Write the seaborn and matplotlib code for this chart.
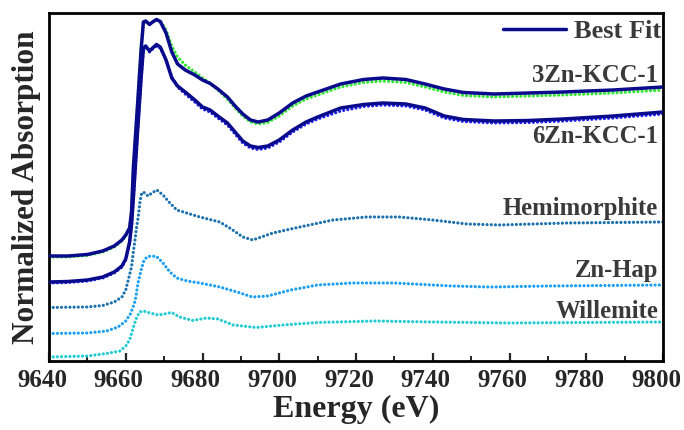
import numpy as np
import pandas as pd
import matplotlib
matplotlib.use("Agg")
import matplotlib.pyplot as plt
import matplotlib.transforms as mtransforms
from matplotlib.ticker import MultipleLocator
import seaborn as sns

# ---------------- data (normalized absorption, stacked with offsets) ----------------
energy_kcc = [9640, 9645, 9650, 9654, 9657, 9659, 9660, 9661, 9661.5, 9662,
              9663, 9664, 9664.6, 9665.2, 9666.2, 9667, 9668, 9669, 9670.5, 9672,
              9673.5, 9675.5, 9678, 9680, 9682, 9684, 9686.5, 9688.5, 9690.5, 9692.5,
              9694.5, 9697, 9700, 9703.5, 9707, 9710, 9716, 9722, 9727, 9733,
              9738, 9743, 9748, 9756, 9765, 9774, 9787, 9800]

zn3_data = [1.04, 1.04, 1.055, 1.09, 1.14, 1.20, 1.25, 1.33, 1.50, 1.95,
            2.53, 3.15, 3.39, 3.39, 3.37, 3.39, 3.41, 3.40, 3.31, 3.15,
            3.04, 2.96, 2.89, 2.83, 2.78, 2.71, 2.62, 2.53, 2.45, 2.39,
            2.37, 2.385, 2.45, 2.55, 2.62, 2.66, 2.74, 2.785, 2.80, 2.785,
            2.74, 2.69, 2.655, 2.64, 2.65, 2.66, 2.68, 2.71]
zn3_fit = [1.05, 1.05, 1.065, 1.10, 1.15, 1.21, 1.26, 1.33, 1.49, 1.94,
           2.52, 3.11, 3.39, 3.40, 3.365, 3.39, 3.415, 3.395, 3.28, 3.09,
           2.97, 2.91, 2.86, 2.81, 2.775, 2.72, 2.64, 2.55, 2.47, 2.41,
           2.39, 2.41, 2.48, 2.58, 2.65, 2.69, 2.77, 2.815, 2.83, 2.815,
           2.77, 2.72, 2.685, 2.67, 2.68, 2.69, 2.71, 2.74]

zn6_data = [0.78, 0.785, 0.80, 0.83, 0.88, 0.94, 1.01, 1.18, 1.35, 1.63,
            2.24, 2.82, 3.12, 3.14, 3.09, 3.12, 3.15, 3.13, 3.01, 2.84,
            2.74, 2.67, 2.59, 2.52, 2.49, 2.43, 2.36, 2.27, 2.18, 2.13,
            2.115, 2.13, 2.19, 2.29, 2.37, 2.42, 2.50, 2.545, 2.56, 2.55,
            2.51, 2.43, 2.395, 2.38, 2.385, 2.40, 2.43, 2.47]
zn6_fit = [0.79, 0.795, 0.81, 0.84, 0.89, 0.95, 1.02, 1.19, 1.36, 1.64,
           2.25, 2.83, 3.13, 3.15, 3.10, 3.13, 3.165, 3.14, 3.01, 2.83,
           2.75, 2.69, 2.61, 2.54, 2.51, 2.45, 2.38, 2.29, 2.20, 2.15,
           2.135, 2.15, 2.21, 2.31, 2.39, 2.44, 2.53, 2.565, 2.58, 2.57,
           2.53, 2.45, 2.415, 2.40, 2.405, 2.42, 2.45, 2.49]

energy_hemi = [9640, 9650, 9654, 9657, 9659, 9660, 9660.65, 9661.5, 9661.95, 9662.4,
               9662.8, 9663.25, 9663.7, 9664.1, 9664.6, 9665.8, 9666.8, 9668.1, 9669.7, 9671.5,
               9673.3, 9675.9, 9679.3, 9684.5, 9687.5, 9690.5, 9693.1, 9698.3, 9705.4, 9714,
               9722.8, 9731.4, 9740, 9748.9, 9757.4, 9775, 9800]
hemimorphite = [0.535, 0.54, 0.555, 0.59, 0.64, 0.71, 0.81, 0.94, 1.08, 1.21,
                1.33, 1.44, 1.59, 1.67, 1.69, 1.65, 1.68, 1.71, 1.66, 1.58,
                1.51, 1.48, 1.44, 1.39, 1.32, 1.24, 1.21, 1.28, 1.34, 1.41,
                1.44, 1.44, 1.41, 1.37, 1.36, 1.38, 1.39]

energy_hap = [9640, 9650, 9655, 9658, 9660, 9661.2, 9662, 9662.5, 9663.2, 9664,
              9664.7, 9665.5, 9666.5, 9668, 9669.5, 9671.5, 9673.3, 9676, 9679.3, 9684.5,
              9689, 9693, 9697, 9703, 9710, 9719, 9730, 9745, 9755, 9770, 9800]
zn_hap = [0.275, 0.28, 0.30, 0.34, 0.40, 0.47, 0.55, 0.61, 0.78, 0.91,
          1.00, 1.04, 1.05, 1.045, 0.99, 0.89, 0.83, 0.80, 0.78, 0.74,
          0.69, 0.64, 0.65, 0.71, 0.76, 0.78, 0.78, 0.75, 0.74, 0.75, 0.76]

energy_will = [9640, 9650, 9655, 9658.5, 9660, 9661, 9662, 9662.8, 9663.6, 9664.6,
               9666.3, 9668.5, 9670, 9672, 9674, 9677.5, 9681, 9684, 9688, 9694,
               9701, 9710, 9725, 9740, 9760, 9780, 9800]
willemite = [0.04, 0.05, 0.075, 0.10, 0.15, 0.21, 0.34, 0.43, 0.49, 0.50,
             0.48, 0.46, 0.47, 0.485, 0.44, 0.405, 0.43, 0.42, 0.36, 0.335,
             0.36, 0.385, 0.40, 0.39, 0.38, 0.385, 0.39]

series_labels = ["3Zn-KCC-1", "6Zn-KCC-1", "Hemimorphite", "Zn-Hap", "Willemite"]
label_baselines = [0.8026, 0.6256, 0.4195, 0.2422, 0.1227]  # axes fraction
x_ticks = [9640, 9660, 9680, 9700, 9720, 9740, 9760, 9780, 9800]

# ---------------- style ----------------
sns.set_style("ticks")
plt.rcParams["font.family"] = ["Liberation Serif", "DejaVu Serif"]
plt.rcParams["font.weight"] = "bold"

NAVY = "#0a0a8c"
GREEN = "#2ee82e"
BLUE = "#1c1cf5"
C_HEMI = "#1b70ae"
C_HAP = "#1a9ff2"
C_WILL = "#22cbd4"
TXT = "#3a3a3a"

fig = plt.figure(figsize=(6.84, 4.30), dpi=100)
ax = fig.add_axes([49 / 684, 1 - 361 / 430, 614 / 684, 348 / 430])


def draw(E, y, color, dotted, label=None, z=2):
    df = pd.DataFrame({"E": E, "A": y})
    if dotted:
        kw = dict(linestyle=(0, (0.01, 1.3)), dash_capstyle="round", lw=2.3)
    else:
        kw = dict(linestyle="-", lw=2.5, solid_capstyle="round", solid_joinstyle="round")
    sns.lineplot(data=df, x="E", y="A", color=color, ax=ax, label=label,
                 sort=False, estimator=None, zorder=z, **kw)


draw(energy_will, willemite, C_WILL, True)
draw(energy_hap, zn_hap, C_HAP, True)
draw(energy_hemi, hemimorphite, C_HEMI, True)
draw(energy_kcc, zn6_data, BLUE, True)
draw(energy_kcc, zn3_data, GREEN, True)
draw(energy_kcc, zn6_fit, NAVY, False, z=3)
draw(energy_kcc, zn3_fit, NAVY, False, label="Best Fit", z=3)

ax.set_xlim(9640, 9800)
ax.set_ylim(0, 3.48)
ax.set_xticks(x_ticks)
ax.xaxis.set_minor_locator(MultipleLocator(10))
ax.set_yticks([])
ax.tick_params(axis="x", which="major", direction="in", length=6, width=1.6,
               labelsize=18, pad=6, top=False)
ax.tick_params(axis="x", which="minor", direction="in", length=3.5, width=1.4, top=False)
shift = mtransforms.ScaledTranslation(-7 / 100, 0, fig.dpi_scale_trans)
for lab in ax.get_xticklabels():
    lab.set_fontweight("bold")
    lab.set_transform(lab.get_transform() + shift)
for s in ax.spines.values():
    s.set_linewidth(2.0)
    s.set_color("black")

ax.set_xlabel("Energy (eV)", fontsize=23, fontweight="bold", labelpad=2)
ax.set_ylabel("Normalized Absorption", fontsize=22.5, fontweight="bold", labelpad=6)

for name, yb in zip(series_labels, label_baselines):
    ax.text(0.992, yb, name, transform=ax.transAxes, ha="right", va="baseline",
            fontsize=17.8, fontweight="bold", color=TXT)

leg = ax.legend(loc="center right", bbox_to_anchor=(0.997, 0.948), frameon=False,
                fontsize=19, handlelength=2.4, handletextpad=0.3,
                borderpad=0, borderaxespad=0)
for t in leg.get_texts():
    t.set_color(TXT)
    t.set_fontweight("bold")

fig.savefig("out.png", dpi=100)
